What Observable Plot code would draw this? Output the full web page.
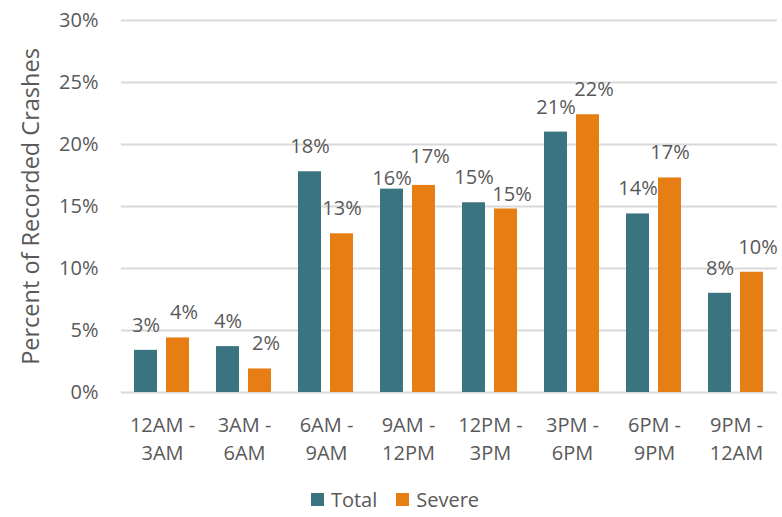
<!DOCTYPE html>
<html><head><meta charset="utf-8">
<script src="https://cdn.jsdelivr.net/npm/d3@7"></script>
<script src="https://cdn.jsdelivr.net/npm/@observablehq/plot@0.6"></script>
<style>
body{margin:0;background:#fff;font-family:"Open Sans",sans-serif;color:#595959;}
#legend{display:flex;justify-content:center;gap:19px;font-size:20px;padding-left:8px;height:35px;align-items:center}
.item{display:flex;align-items:center}
.sw{display:inline-block;width:13px;height:13px;margin-right:7px}
</style></head><body><div id="chart"></div><div id="legend"></div>
<script>
const categories = ["12AM -\n3AM","3AM -\n6AM","6AM -\n9AM","9AM -\n12PM","12PM -\n3PM","3PM -\n6PM","6PM -\n9PM","9PM -\n12AM"];
const series = ["Total","Severe"];
const totalValues = [3.4,3.7,17.8,16.4,15.3,21.0,14.4,8.0];
const severeValues = [4.4,1.9,12.8,16.7,14.8,22.4,17.3,9.7];
const yTicks = [0,5,10,15,20,25,30];
const colors = ["#3a7480","#e67e14"];
const yTitle = "Percent of Recorded Crashes";

const data = [];
categories.forEach((c,i)=>{
  const t = totalValues[i], s = severeValues[i];
  const diff = Math.abs(t - s);
  // simple label collision rule: when the two labels would collide, lower the smaller bar's label
  // and nudge the Severe label to the right
  const close = diff < 1, near = diff < 2;
  data.push({cat:c, s:"Total", v:t, dy: close && t < s ? -11 : -25, dx: 0});
  data.push({cat:c, s:"Severe", v:s, dy: close ? (s < t ? -14 : -29) : -25, dx: near ? 6 : 0});
});

const fs = 20;
const chart = Plot.plot({
  width: 782, height: 482,
  marginLeft: 121, marginRight: 5, marginTop: 20, marginBottom: 90,
  style: {fontFamily: "Open Sans", fontSize: fs + "px", color: "#595959", background: "#fff"},
  fx: {domain: categories, padding: 0, label: null},
  x: {domain: series, paddingInner: 0.28, paddingOuter: 0.42, axis: null},
  y: {domain: [0,30], ticks: yTicks, label: null},
  color: {domain: series, range: colors},
  marks: [
    Plot.gridY(yTicks, {stroke: "#d9d9d9", strokeOpacity: 1, strokeWidth: 2}),
    Plot.axisY(yTicks, {tickSize: 0, tickPadding: 23, tickFormat: d => d + "%", fontSize: fs, fill: "#595959", label: null}),
    Plot.axisY({ticks: [], tickSize: 0, label: yTitle, labelAnchor: "center", labelOffset: 99, labelArrow: "none", fontSize: 23.5, fill: "#595959"}),
    Plot.axisFx({anchor: "bottom", tickSize: 0, tickPadding: 20, fontSize: fs, fill: "#595959", lineHeight: 1.4, label: null}),
    Plot.barY(data, {fx: "cat", x: "s", y: "v", fill: "s"}),
    ...data.map(d => Plot.text([d], {fx: "cat", x: "s", y: "v", text: d => Math.round(d.v) + "%", dy: d.dy, dx: d.dx, fontSize: fs, fill: "#595959"}))
  ]
});
document.getElementById("chart").appendChild(chart);

const leg = document.getElementById("legend");
series.forEach((s,i)=>{
  const it = document.createElement("span"); it.className="item";
  const sw = document.createElement("span"); sw.className="sw"; sw.style.background=colors[i];
  it.appendChild(sw); it.appendChild(document.createTextNode(s));
  leg.appendChild(it);
});
</script></body></html>
